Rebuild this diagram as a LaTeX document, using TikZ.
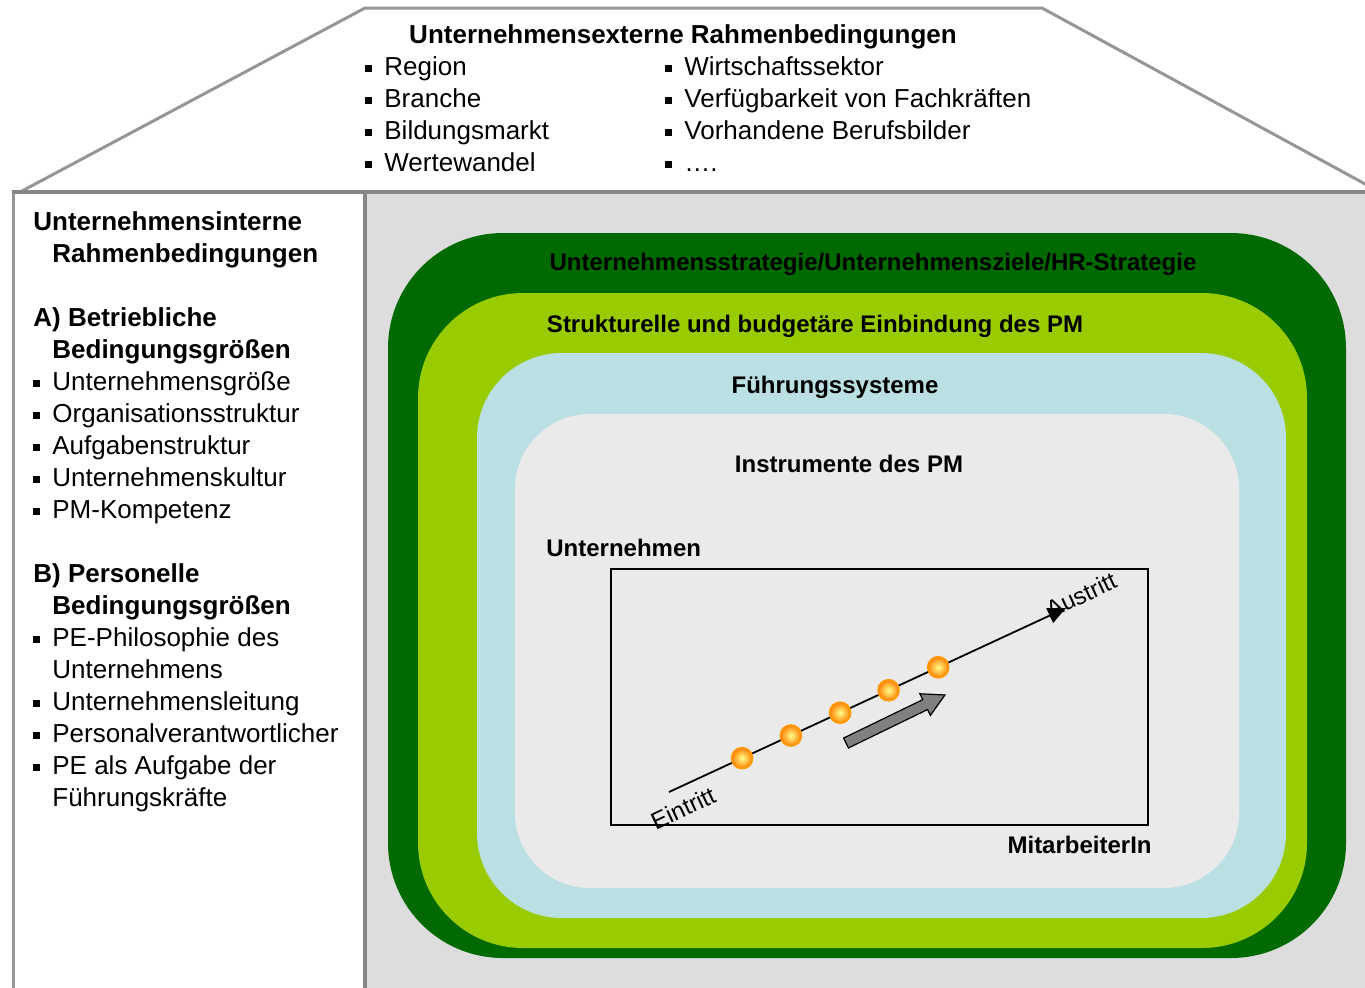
\documentclass[tikz,border=0pt]{standalone}
\usepackage{fontspec}
\setmainfont{Liberation Sans}
\usetikzlibrary{arrows.meta,calc}

\definecolor{hausgrau}{RGB}{150,150,150}
\definecolor{feldgrau}{RGB}{221,221,221}
\definecolor{dunkelgruen}{RGB}{0,106,0}
\definecolor{hellgruen}{RGB}{153,204,0}
\definecolor{hellblau}{RGB}{187,224,227}
\definecolor{innengrau}{RGB}{234,234,234}
\definecolor{kugelrand}{RGB}{255,153,0}

% bullet and indent for the lists
\newcommand{\qbul}{\makebox[9.5pt][l]{\rule[1.6pt]{3.5pt}{3.5pt}}}
\newcommand{\einr}{\hspace*{9.5pt}}

\tikzset{
    liste/.style={
           anchor=base west,   % base = baseline of the last line
           inner sep=0pt,
           align=left,
           font=\fontsize{13}{16}\selectfont,
           },
    kopf/.style={
           anchor=base,
           inner sep=0pt,
           font=\fontsize{13}{16}\selectfont\bfseries,
           },
    schild/.style={
           anchor=base,
           inner sep=0pt,
           font=\fontsize{12}{14}\selectfont\bfseries,
           },
    schale/.style={
           draw=none,
           rounded corners=#1,
           },
    kugel/.style={
           circle,
           minimum size=10.5pt,
           inner sep=0pt,
           draw=kugelrand, line width=0.8pt,
           inner color=yellow!45, outer color=orange,
           },
}

\begin{document}
\begin{tikzpicture}[x=0.5pt, y=-0.5pt]
 \useasboundingbox (0,0) rectangle (1365,987);
 \clip (0,0) rectangle (1365,987);

 % roof: external conditions
 \draw[hausgrau, line width=1.5pt, fill=white, line join=round]
   (22,191) -- (365,8) -- (1042,8) -- (1378,191);

 % right field and left column
 \fill[feldgrau] (365,192) rectangle (1380,1000);
 \draw[hausgrau, line width=1.5pt, fill=white] (13,192) rectangle (364,1000);
 \draw[hausgrau!90!black, line width=2pt] (12,191.5) -- (1380,191.5);
 \draw[hausgrau!90!black, line width=2pt] (364.5,192) -- (364.5,1000);

 % nested shells
 \fill[dunkelgruen, schale=57.5pt] (388,233) rectangle (1346,958);
 \fill[hellgruen, schale=52.5pt] (418,293) rectangle (1307,948);
 \fill[hellblau, schale=42.5pt] (477,353) rectangle (1286,918);
 \fill[innengrau, schale=37.5pt] (515,414) rectangle (1239,888);

 % roof text
 \node[kopf] (ext) at (683,43) {Unternehmensexterne Rahmenbedingungen};
 \node[liste] (extL) at (365,171)
   {\qbul Region\\ \qbul Branche\\ \qbul Bildungsmarkt\\ \qbul Wertewandel};
 \node[liste] (extR) at (665,171)
   {\qbul Wirtschaftssektor\\ \qbul Verfügbarkeit von Fachkräften\\
    \qbul Vorhandene Berufsbilder\\ \qbul ….};

 % left column text
 \node[liste] (int) at (33,806)
   {\textbf{Unternehmensinterne}\\ \einr\textbf{Rahmenbedingungen}\\[16pt]
    \textbf{A) Betriebliche}\\ \einr\textbf{Bedingungsgrößen}\\
    \qbul Unternehmensgröße\\ \qbul Organisationsstruktur\\
    \qbul Aufgabenstruktur\\ \qbul Unternehmenskultur\\
    \qbul PM-Kompetenz\\[16pt]
    \textbf{B) Personelle}\\ \einr\textbf{Bedingungsgrößen}\\
    \qbul PE-Philosophie des\\ \einr Unternehmens\\
    \qbul Unternehmensleitung\\ \qbul Personalverantwortlicher\\
    \qbul PE als Aufgabe der\\ \einr Führungskräfte};

 % shell labels
 \node[schild] (strat) at (873,270) {Unternehmensstrategie/Unternehmensziele/HR-Strategie};
 \node[schild] (einb) at (815,332) {Strukturelle und budgetäre Einbindung des PM};
 \node[schild] (fuehr) at (835,393) {Führungssysteme};
 \node[schild] (instr) at (849,472) {Instrumente des PM};
 \node[schild, anchor=base west] (unt) at (546,556) {Unternehmen};
 \node[schild, anchor=base east] (ma) at (1152,853) {MitarbeiterIn};

 % employee path
 \draw[line width=1pt] (611,569) rectangle (1148,825);
 \coordinate (ein) at (669,792);
 \coordinate (aus) at (1066,608);
 \draw[line width=0.9pt, -{Triangle[length=9pt,width=8pt]}] (ein) -- (aus);
 \node[rotate=25, inner sep=0pt, font=\fontsize{12}{14}\selectfont] (eintritt) at (683,808) {Eintritt};
 \node[rotate=25, inner sep=0pt, font=\fontsize{12}{14}\selectfont] (austritt) at (1081,595) {Austritt};
 \foreach \p [count=\k] in {0.184,0.307,0.431,0.553,0.678}
   \node[kugel] (k\k) at ($(ein)!\p!(aus)$) {};

 % direction arrow
 \begin{scope}[shift={(846,743)}, rotate=25.9]
  \draw[fill=gray, line width=0.6pt, line join=miter]
    (0,-5.5) -- (88,-5.5) -- (88,-12) -- (110,0) -- (88,12) -- (88,5.5) -- (0,5.5) -- cycle;
 \end{scope}
\end{tikzpicture}
\end{document}
